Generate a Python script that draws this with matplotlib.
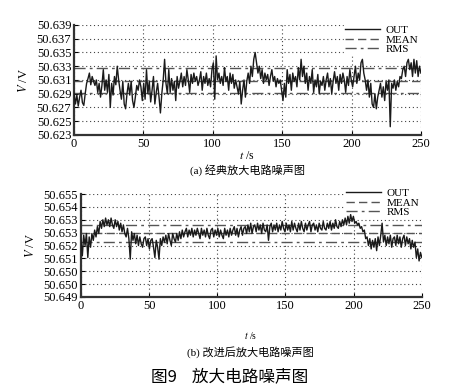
import numpy as np
import matplotlib.pyplot as plt

# (a) classic amplifier: output offset from 50.630 V, in mV, one sample per second
base_a = 50.630
out_a_mv = [
    -1.0, -2.5, -1.2, -2.8, -1.5, -0.5, -2.3, -2.7, -1.0, 0.5,
    1.2, 2.0, 0.3, 1.5, 0.8, 0.2, 1.0, -0.8, 0.5, -1.5,
    0.2, 2.5, -0.5, 1.0, -0.8, 1.8, -3.0, 0.5, -1.2, 1.5,
    0.3, 3.0, 1.0, -0.5, -1.8, 0.8, -2.5, -3.2, -1.0, 0.5,
    -1.2, 0.8, -2.0, -3.0, -1.5, 0.2, -0.5, 1.0, 0.0, -2.0,
    0.5, -1.8, 2.5, -1.0, 0.8, -2.2, -0.5, 1.5, -2.5, -0.8,
    0.5, -1.5, -3.8, -1.0, 1.0, 4.0, 0.5, -1.0, 2.5, -0.8,
    1.2, -0.5, 0.8, -2.0, 1.5, -0.2, 0.8, 2.0, 0.0, 1.5,
    0.2, 2.5, 1.0, -0.8, 1.8, 0.5, 2.0, 0.8, 1.5, 0.2,
    1.0, 2.2, -0.5, 1.5, 0.5, 2.0, 0.2, 1.2, 0.0, 2.5,
    3.5, -1.8, 4.5, 1.0, 2.0, 0.5, 1.5, 0.2, 2.8, 0.8,
    1.5, -0.5, 2.0, 0.5, 1.8, -0.2, 1.0, 0.0, -1.0, 0.8,
    -2.5, -0.5, 1.0, -1.5, 0.8, 2.0, 0.5, 3.0, 1.5, 4.0,
    5.0, 3.5, 2.0, 3.0, 1.2, 2.5, 0.5, 2.0, 1.0, 1.8,
    0.2, 1.5, 2.5, 0.8, 1.5, 0.0, 1.2, 0.5, 1.0, -0.5,
    -2.0, 0.5, -1.5, 2.5, 0.5, 1.8, -0.5, 2.0, 0.8, 1.5,
    0.0, 2.8, 1.0, 4.0, 1.5, 3.0, 0.5, 2.0, -0.5, 1.5,
    0.5, 2.5, -0.8, 1.0, 0.0, 1.8, -1.0, 0.8, 0.2, 1.5,
    -0.5, 1.0, 2.0, 0.0, 1.2, -1.0, 0.8, 2.2, 0.5, 1.5,
    -0.5, 1.8, 0.5, 2.0, 1.0, -0.8, 1.5, 0.2, 2.5, 1.0,
    0.0, 1.5, 3.0, 0.5, 2.0, 1.0, 3.5, 4.0, 2.0, 1.0,
    -0.5, 1.0, -1.5, 0.5, -2.5, -3.0, -1.0, -3.2, -1.5, -0.5,
    0.5, -1.5, 0.0, -2.0, 0.8, -0.5, 1.0, -5.8, 0.5, -0.2,
    1.0, -0.5, 0.8, 0.0, 1.5, 1.2, 2.5, 3.0, 1.5, 3.5,
    4.0, 2.5, 3.5, 1.5, 4.0, 2.0, 3.8, 1.5, 3.0, 2.0,
]
mean_a = 50.6309
rms_a = 0.0018
yticks_a = [50.623, 50.625, 50.627, 50.629, 50.631, 50.633, 50.635, 50.637, 50.639]

# (b) improved amplifier: output offset from 50.652 V, in mV
base_b = 50.652
out_b_mv = [
    0.3, -0.6, 0.6, 0.0, 0.7, -0.7, 0.5, -0.1, 0.7, 0.3,
    0.9, 0.5, 1.1, 0.7, 1.4, 1.0, 1.5, 1.1, 1.6, 1.2,
    1.5, 1.1, 1.6, 1.2, 1.0, 1.5, 1.1, 1.4, 0.9, 1.3,
    0.8, 1.2, 0.7, 0.5, 1.0, 0.4, -0.8, 0.8, 0.3, 0.7,
    0.1, 0.6, 0.0, 0.5, 0.1, -0.1, 0.4, 0.5, 0.0, 0.4,
    -0.2, 0.3, 0.4, -0.1, -0.7, 0.3, -0.1, -0.8, 0.4, 0.0,
    0.5, 0.2, 0.6, 0.1, 0.7, 0.3, 0.0, 0.7, 0.4, 0.2,
    0.7, 0.3, 0.8, 0.4, 0.9, 0.5, 0.8, 1.0, 0.5, 0.9,
    0.6, 1.0, 0.5, 0.9, 0.6, 1.0, 0.7, 0.4, 1.0, 0.6,
    0.9, 0.5, 1.0, 0.6, 0.4, 0.9, 1.0, 0.5, 0.9, 0.6,
    1.0, 0.5, 0.9, 0.6, 0.4, 1.0, 0.6, 0.9, 0.5, 1.0,
    0.6, 0.9, 1.1, 0.6, 1.0, 0.5, 0.9, 1.1, 0.6, 1.0,
    1.1, 0.7, 1.2, 0.8, 1.3, 0.7, 1.1, 1.2, 0.8, 1.3,
    0.9, 1.2, 0.7, 1.3, 0.9, 0.8, 1.2, 0.3, 1.1, 1.3,
    0.8, 1.2, 0.9, 1.3, 0.8, 1.2, 0.9, 1.4, 1.0, 0.8,
    1.3, 0.9, 1.2, 0.8, 1.4, 0.9, 1.3, 1.0, 0.8, 1.3,
    0.9, 1.4, 1.0, 0.8, 1.3, 0.9, 1.2, 1.4, 0.8, 1.2,
    1.3, 0.9, 1.2, 0.8, 1.3, 1.0, 0.9, 1.4, 1.0, 0.9,
    1.3, 1.0, 1.4, 0.9, 1.3, 1.0, 1.5, 1.1, 1.0, 1.4,
    1.1, 1.5, 1.2, 1.6, 1.2, 1.7, 1.3, 1.8, 1.4, 1.7,
    1.3, 1.4, 1.2, 1.3, 1.0, 1.1, 0.8, 0.9, 0.4, 0.5,
    0.0, 0.4, -0.2, 0.3, -0.1, 0.4, -0.3, 0.5, 0.0, 0.6,
    1.3, 0.2, 0.6, 0.0, 0.5, 0.1, 0.6, -0.1, 0.4, 0.5,
    0.0, 0.6, 0.1, 0.5, -0.1, 0.4, 0.6, 0.0, 0.5, 0.1,
    0.4, -0.2, 0.3, -0.1, 0.2, -0.7, -0.2, -0.9, -0.4, -0.7,
]
mean_b = 50.6527
rms_b = 0.0005
yticks_b = [50.649, 50.64975, 50.6505, 50.65125, 50.652, 50.65275, 50.6535, 50.65425, 50.655]
yticklabels_b = ["50.649", "50.650", "50.650", "50.651", "50.652", "50.653", "50.653", "50.654", "50.655"]

xticks = [0, 50, 100, 150, 200, 250]

SERIF = ["Liberation Serif", "Noto Sans CJK SC"]
CJK = ["Noto Sans CJK SC", "Liberation Serif"]
plt.rcParams["font.family"] = SERIF
plt.rcParams["mathtext.fontset"] = "stix"


def draw_panel(ax, out, mean, rms, yticks, yticklabels, legend_y):
    t = np.linspace(0, 250, len(out))
    ax.plot(t, out, color="#1a1a1a", lw=1.0, label="OUT", zorder=6)
    ax.axhline(mean, color="#555555", lw=1.0, ls=(0, (6, 3)), label="MEAN")
    ax.axhline(mean + rms, color="#555555", lw=1.0, ls=(0, (8, 3, 2, 3)), label="RMS")
    ax.axhline(mean - rms, color="#555555", lw=1.0, ls=(0, (8, 3, 2, 3)))
    ax.set_xlim(0, 250)
    ax.set_ylim(yticks[0], yticks[-1])
    ax.set_xticks(xticks)
    ax.set_yticks(yticks)
    ax.set_yticklabels(yticklabels)
    ax.grid(True, color="#444444", ls=(0, (1, 2.5)), lw=0.8)
    for side in ["top", "right"]:
        ax.spines[side].set_visible(False)
    for side in ["left", "bottom"]:
        ax.spines[side].set_linewidth(1.6)
        ax.spines[side].set_color("#333333")
    ax.tick_params(direction="in", length=3, labelsize=9, pad=2)
    ax.set_ylabel("$V$ /V", fontsize=9, labelpad=5)
    leg = ax.legend(loc="upper right", bbox_to_anchor=(1.0, legend_y), frameon=True,
                    fontsize=8, handlelength=3.2, labelspacing=0.0, borderpad=0.1,
                    handletextpad=0.5, borderaxespad=0.1, fancybox=False)
    leg.get_frame().set_edgecolor("white")
    leg.get_frame().set_alpha(1.0)


fig = plt.figure(figsize=(4.6, 3.9), dpi=100)
ax_a = fig.add_axes([0.161, 0.654, 0.754, 0.282])
ax_b = fig.add_axes([0.176, 0.2385, 0.741, 0.264])

out_a = base_a + np.array(out_a_mv) / 1000
out_b = base_b + np.array(out_b_mv) / 1000
draw_panel(ax_a, out_a, mean_a, rms_a, yticks_a, ["%.3f" % v for v in yticks_a], 1.02)
draw_panel(ax_b, out_b, mean_b, rms_b, yticks_b, yticklabels_b, 1.08)

fig.text(0.537, 0.600, "$t$ /s", ha="center", va="center", fontsize=8.5)
fig.text(0.537, 0.565, "(a) 经典放大电路噪声图", ha="center", va="center",
         fontsize=8, family=SERIF)
fig.text(0.545, 0.140, "$t$ /s", ha="center", va="center", fontsize=7)
fig.text(0.545, 0.097, "(b) 改进后放大电路噪声图", ha="center", va="center",
         fontsize=8, family=SERIF)
fig.text(0.50, 0.032, "图9    放大电路噪声图", ha="center", va="center",
         fontsize=12, family=CJK)

fig.savefig("out.png", dpi=100)
